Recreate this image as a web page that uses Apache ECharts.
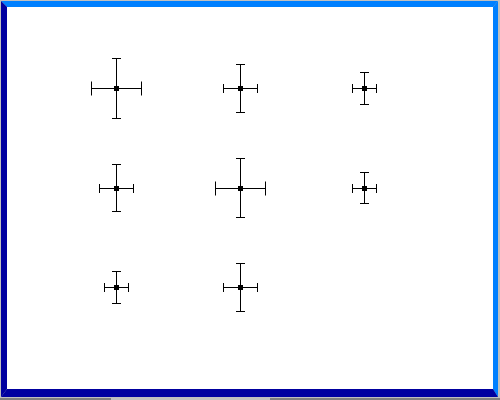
<!DOCTYPE html>
<html>
<head>
<meta charset="utf-8">
<script src="https://cdn.jsdelivr.net/npm/echarts@6/dist/echarts.min.js"></script>
<style>
  html, body { margin: 0; padding: 0; background: #c0c0c0; }
  #chart { width: 500px; height: 400px; }
</style>
</head>
<body>
<div id="chart"></div>
<script>
// Data
const xValues = [1, 2, 3, 1, 2, 3, 1, 2];
const yValues = [3, 3, 3, 2, 2, 2, 1, 1];
const xErrors = [0.2, 0.14, 0.1, 0.14, 0.2, 0.1, 0.1, 0.14];
const yErrors = [0.3, 0.24, 0.16, 0.24, 0.3, 0.16, 0.16, 0.24];

const seriesData = xValues.map((x, i) => [x, yValues[i], xErrors[i], yErrors[i]]);

const chart = echarts.init(document.getElementById('chart'), null, { renderer: 'canvas' });

function snap(v) { return Math.floor(v) + 0.5; }

function renderItem(params, api) {
  const x = api.value(0), y = api.value(1), ex = api.value(2), ey = api.value(3);
  const c = api.coord([x, y]);
  const l = api.coord([x - ex, y]);
  const r = api.coord([x + ex, y]);
  const t = api.coord([x, y + ey]);
  const b = api.coord([x, y - ey]);
  const cx = snap(c[0]), cy = snap(c[1]);
  const lx = snap(l[0]), rx = snap(r[0]);
  const ty = snap(t[1]), by = snap(b[1]);
  const hCap = ex >= 0.19 ? 7 : 4.5;   // half-height of caps on horizontal bar
  const vCap = 4.5;                    // half-width of caps on vertical bar
  const st = { stroke: '#000', lineWidth: 1 };
  const line = (x1, y1, x2, y2) => ({ type: 'line', shape: { x1, y1, x2, y2 }, style: st });
  return {
    type: 'group',
    children: [
      line(lx, cy, rx, cy),
      line(cx, ty, cx, by),
      line(lx, cy - hCap, lx, cy + hCap),
      line(rx, cy - hCap, rx, cy + hCap),
      line(cx - vCap, ty, cx + vCap, ty),
      line(cx - vCap, by, cx + vCap, by),
      { type: 'rect', shape: { x: cx - 2.5, y: cy - 2.5, width: 5, height: 5 }, style: { fill: '#000' } }
    ]
  };
}

const option = {
  animation: false,
  backgroundColor: '#c0c0c0',
  grid: { left: 54.5, top: 38.75, width: 372, height: 298.5, containLabel: false, outerBoundsMode: 'none' },
  xAxis: { type: 'value', min: 0.5, max: 3.5, show: false },
  yAxis: { type: 'value', min: 0.5, max: 3.5, show: false },
  graphic: [
    { type: 'rect', z: -10, shape: { x: 7, y: 7, width: 486, height: 382 }, style: { fill: '#ffffff' } },
    // top (light)
    { type: 'polygon', z: -5, shape: { points: [[1, 1], [498, 1], [493, 7], [7, 7]] }, style: { fill: '#0080ff' } },
    // right (light)
    { type: 'polygon', z: -5, shape: { points: [[498, 1], [498, 397], [493, 389], [493, 7]] }, style: { fill: '#0080ff' } },
    // left (dark)
    { type: 'polygon', z: -4, shape: { points: [[1, 1], [7, 7], [7, 389], [1, 397]] }, style: { fill: '#0000a0' } },
    // bottom (dark)
    { type: 'polygon', z: -4, shape: { points: [[1, 397], [7, 389], [493, 389], [498, 397]] }, style: { fill: '#0000a0' } },
    // bottom gray strip
    { type: 'rect', z: -6, shape: { x: 0, y: 398, width: 500, height: 2 }, style: { fill: '#808080' } },
    { type: 'rect', z: -5, shape: { x: 111, y: 398, width: 159, height: 2 }, style: { fill: '#c0c0c0' } }
  ],
  series: [{
    type: 'custom',
    renderItem: renderItem,
    encode: { x: 0, y: 1 },
    data: seriesData,
    clip: false
  }]
};

chart.setOption(option);
</script>
</body>
</html>
